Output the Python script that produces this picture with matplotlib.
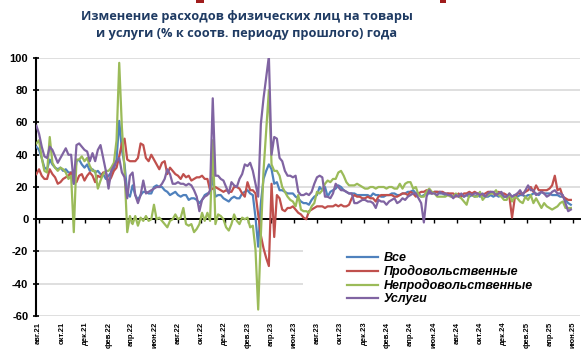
import matplotlib
matplotlib.use("Agg")
import matplotlib.pyplot as plt
import pandas as pd
from matplotlib.patches import Rectangle
from matplotlib.font_manager import FontProperties

plt.rcParams['font.family'] = ['Liberation Sans', 'DejaVu Sans']
plt.rcParams['axes.unicode_minus'] = False

# weekly values, % yoy
vse = [45, 43, 38, 32, 31, 37, 34, 32, 31, 32,
       30, 31, 29, 29, 22, 36, 37, 34, 32, 34,
       30, 31, 29, 30, 28, 28, 25, 27, 29, 31,
       37, 61, 43, 34, 16, 14, 21, 15, 12, 15,
       17, 17, 16, 16, 20, 21, 20, 20, 18, 17,
       15, 16, 17, 15, 14, 15, 15, 12, 13, 13,
       12, 10, 12, 15, 16, 16, 26, 14, 15, 15,
       13, 12, 11, 13, 14, 13, 13, 16, 17, 18,
       16, 15, 1, -17, 10, 25, 30, 34, 31, 22,
       23, 18, 18, 17, 16, 16, 16, 14, 13, 11,
       10, 10, 9, 12, 14, 15, 20, 18, 20, 14,
       17, 18, 19, 21, 20, 18, 17, 16, 16, 16,
       15, 15, 15, 15, 15, 14, 16, 15, 15, 14,
       14, 15, 15, 16, 16, 15, 15, 16, 16, 17,
       17, 18, 16, 16, 14, 15, 16, 16, 16, 17,
       17, 16, 16, 15, 16, 15, 14, 15, 14, 15,
       14, 15, 14, 15, 14, 15, 14, 15, 14, 14,
       15, 14, 15, 14, 15, 14, 14, 15, 14, 15,
       14, 15, 15, 14, 15, 15, 16, 16, 15, 17,
       16, 16, 16, 15, 15, 15, 14, 14, 12, 10, 9]

prod = [28, 31, 27, 25, 25, 31, 28, 26, 22, 23,
        25, 26, 27, 29, 24, 23, 27, 28, 24, 27,
        29, 27, 23, 27, 26, 29, 29, 23, 26, 30,
        32, 39, 47, 50, 37, 36, 36, 36, 38, 47,
        46, 38, 36, 40, 37, 34, 31, 35, 36, 28,
        32, 30, 28, 27, 25, 28, 26, 27, 24, 25,
        26, 26, 27, 25, 25, 18, 19, 20, 19, 18,
        17, 18, 17, 17, 20, 20, 19, 16, 14, 23,
        18, 18, 16, 3, -10, -18, -24, -29, 22, -11,
        15, 13, 6, 5, 7, 7, 8, 6, 4, 3,
        1, 0, 5, 6, 7, 8, 8, 8, 7, 8,
        8, 8, 9, 8, 9, 8, 8, 9, 13, 15,
        14, 14, 13, 13, 14, 13, 13, 11, 14, 15,
        15, 15, 15, 15, 14, 14, 15, 16, 16, 15,
        17, 16, 14, 16, 17, 17, 18, 17, 16, 17,
        17, 17, 17, 16, 16, 16, 16, 14, 16, 14,
        16, 16, 17, 16, 17, 16, 16, 15, 16, 17,
        17, 16, 15, 17, 16, 16, 15, 14, 1, 13,
        16, 16, 16, 17, 18, 20, 17, 21, 18, 18,
        18, 18, 19, 21, 27, 18, 19, 14, 13, 12, 12]

neprod = [47, 49, 38, 30, 29, 51, 35, 32, 30, 32,
          31, 29, 25, 27, -8, 37, 37, 39, 36, 38,
          33, 30, 30, 19, 24, 28, 30, 30, 32, 35,
          49, 97, 57, 30, -8, 2, -3, 2, -4, 1,
          -1, 2, -1, 0, 9, 0, 1, -1, -3, -5,
          -1, 0, 3, 0, 1, 7, -3, -4, -3, -8,
          -6, -3, 4, -1, 4, -1, 49, -3, 3, 2,
          0, -5, -7, -3, 3, -1, -3, 1, 0, 1,
          -5, -4, -19, -56, -10, 30, 55, 80, 34, 30,
          30, 27, 20, 17, 14, 12, 11, 8, 15, 6,
          5, 5, 4, 8, 10, 17, 16, 18, 22, 24,
          23, 25, 25, 29, 30, 27, 23, 21, 21, 21,
          22, 21, 20, 19, 19, 20, 20, 19, 20, 20,
          20, 19, 20, 20, 19, 19, 22, 19, 22, 23,
          23, 19, 20, 15, 14, 14, 17, 19, 17, 16,
          14, 14, 14, 14, 15, 14, 14, 16, 14, 13,
          11, 9, 15, 15, 14, 14, 17, 12, 14, 15,
          16, 16, 18, 15, 14, 12, 12, 16, 11, 14,
          13, 11, 10, 14, 12, 15, 10, 13, 10, 7,
          10, 8, 7, 6, 7, 8, 10, 11, 7, 7, 7]

uslugi = [58, 53, 45, 39, 38, 45, 43, 39, 35, 38,
          41, 44, 40, 40, 22, 46, 47, 45, 43, 42,
          36, 41, 36, 43, 46, 38, 30, 19, 30, 33,
          36, 38, 29, 26, 13, 27, 29, 15, 10, 15,
          24, 16, 17, 18, 19, 20, 20, 22, 25, 31,
          28, 22, 22, 23, 22, 22, 21, 22, 21, 18,
          14, 5, 12, 14, 15, 18, 75, 27, 27, 25,
          24, 20, 16, 23, 21, 20, 25, 28, 34, 33,
          35, 30, 22, 14, 59, 75, 88, 101, 40, 51,
          50, 38, 36, 30, 27, 27, 26, 27, 17, 15,
          15, 16, 15, 17, 22, 26, 27, 26, 14, 14,
          13, 16, 22, 20, 18, 18, 17, 16, 16, 10,
          10, 11, 12, 12, 11, 11, 10, 7, 12, 11,
          11, 9, 11, 12, 13, 10, 11, 13, 12, 14,
          15, 16, 16, 13, 10, -2, 14, 18, 16, 16,
          15, 17, 16, 16, 15, 15, 13, 15, 14, 16,
          14, 15, 16, 15, 16, 16, 15, 16, 14, 16,
          17, 17, 15, 16, 17, 14, 14, 16, 14, 15,
          16, 18, 15, 18, 21, 18, 18, 15, 16, 17,
          16, 14, 15, 17, 18, 16, 16, 15, 10, 5, 6]

series_names = ['Все', 'Продовольственные', 'Непродовольственные', 'Услуги']
colors = ['#4F81BD', '#C0504D', '#9BBB59', '#8064A2']

tick_labels = ['авг.21', 'окт.21', 'дек.21', 'фев.22', 'апр.22', 'июн.22',
               'авг.22', 'окт.22', 'дек.22', 'фев.23', 'апр.23', 'июн.23',
               'авг.23', 'окт.23', 'дек.23', 'фев.24', 'апр.24', 'июн.24',
               'авг.24', 'окт.24', 'дек.24', 'фев.25', 'апр.25', 'июн.25']
yticks = [-60, -40, -20, 0, 20, 40, 60, 80, 100]

dates = pd.date_range('2021-07-26', periods=len(vse), freq='7D')
tick_dates = pd.date_range('2021-08-01', periods=len(tick_labels), freq='2MS')

fig = plt.figure(figsize=(5.86, 3.56), dpi=100)
ax = fig.add_axes([36 / 586, 1 - 316 / 356, 544 / 586, 258 / 356])

for vals, name, c in zip([vse, prod, neprod, uslugi], series_names, colors):
    ax.plot(dates, vals, color=c, lw=1.6, label=name, zorder=3)

ax.set_ylim(-60, 100)
ax.set_xlim(dates[0] - pd.Timedelta(days=1), pd.Timestamp('2025-06-19'))

# gridlines
for v in yticks:
    if v != 0:
        ax.axhline(v, color='#d9d9d9', lw=1.2, zorder=0)

for s in ['top', 'right']:
    ax.spines[s].set_visible(False)
ax.spines['bottom'].set_position(('data', 0))
ax.spines['bottom'].set_linewidth(1.4)
ax.spines['left'].set_linewidth(1.5)

ax.set_yticks(yticks)
ax.set_yticklabels([str(v) for v in yticks], fontweight='bold', fontsize=8)
ax.tick_params(axis='y', direction='inout', length=5, width=1.2, pad=3)

ax.set_xticks(tick_dates)
ax.tick_params(axis='x', direction='out', length=3, width=1, labelbottom=False)
for d, lab in zip(tick_dates, tick_labels):
    ax.text(d, -0.022, lab, transform=ax.get_xaxis_transform(), rotation=90,
            ha='center', va='top', fontsize=5.5, fontweight='bold')

# white box behind the legend
ax.add_patch(Rectangle((0.491, 0.015), 0.52, 0.29, transform=ax.transAxes,
                       facecolor='white', edgecolor='none', zorder=1, clip_on=False))

ax.legend(loc='upper left', bbox_to_anchor=(0.592, 0.292), bbox_transform=fig.transFigure,
          frameon=False, handlelength=2.5, handletextpad=0.45, labelspacing=0.08,
          borderpad=0, borderaxespad=0,
          prop=FontProperties(family='Liberation Sans', weight='bold', style='italic', size=9))

fig.text(0.421, 0.93, 'Изменение расходов физических лиц на товары\n'
         'и услуги (% к соотв. периоду прошлого) года',
         ha='center', va='center', fontsize=9.2, fontweight='bold', color='#1f3b63',
         family='Open Sans', linespacing=1.4)

# cut-off red frame pieces at the top edge
fig.patches.append(Rectangle((196 / 586, 1 - 3 / 356), 8 / 586, 3 / 356,
                             transform=fig.transFigure, facecolor='#a01c1c', edgecolor='none'))
fig.patches.append(Rectangle((440 / 586, 1 - 3 / 356), 6 / 586, 3 / 356,
                             transform=fig.transFigure, facecolor='#a01c1c', edgecolor='none'))

fig.savefig('out.png', dpi=100)
